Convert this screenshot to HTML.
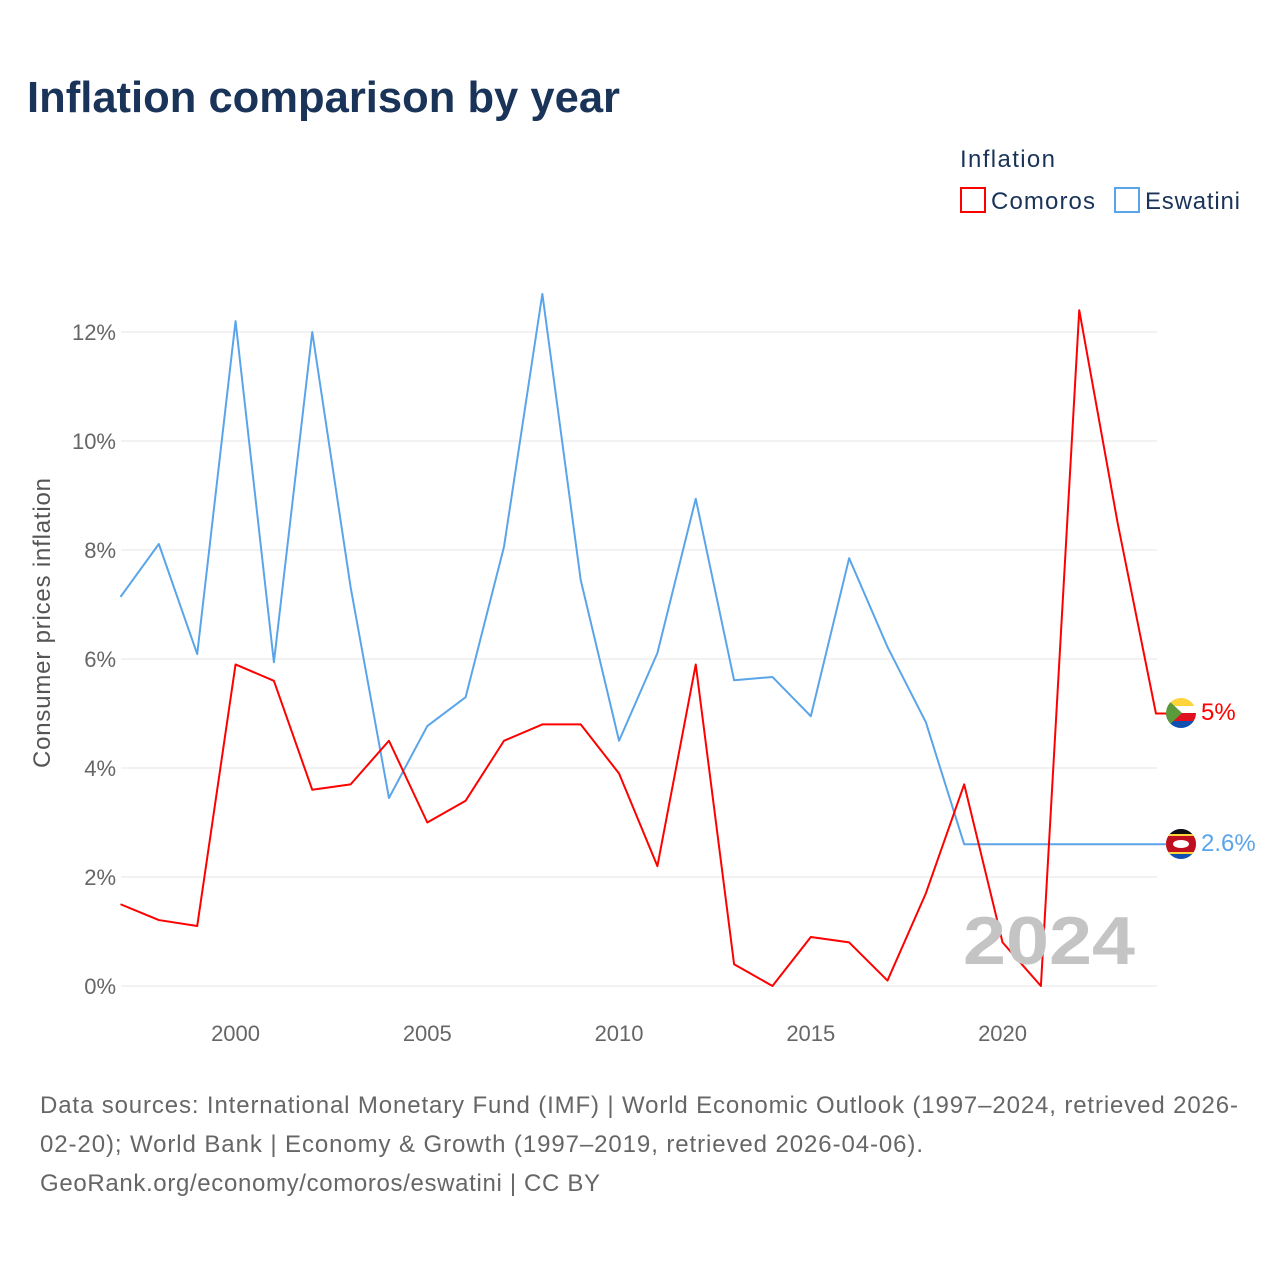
<!DOCTYPE html>
<html><head><meta charset="utf-8"><style>
body{margin:0;background:#fff;font-family:"Liberation Sans",sans-serif;}
</style></head><body>
<svg width="1280" height="1280" xmlns="http://www.w3.org/2000/svg">
<rect width="1280" height="1280" fill="#fff"/>
<text x="27" y="112" font-size="44" font-weight="bold" fill="#1a3358" textLength="593" lengthAdjust="spacingAndGlyphs">Inflation comparison by year</text>
<text x="960" y="167" font-size="24" fill="#1a3358" textLength="95">Inflation</text>
<g><rect x="961" y="188" width="24" height="24" fill="none" stroke="#f00" stroke-width="2"/><text x="991" y="209" font-size="24" fill="#1a3358" textLength="104">Comoros</text></g>
<g><rect x="1115" y="188" width="24" height="24" fill="none" stroke="#5aa5ea" stroke-width="2"/><text x="1145" y="209" font-size="24" fill="#1a3358" textLength="95">Eswatini</text></g>
<g id="grid"></g><g id="xaxis"></g><g id="lines"></g>
<text x="963" y="964" font-size="68" font-weight="bold" fill="#c4c4c4" textLength="172" lengthAdjust="spacingAndGlyphs">2024</text>
<text transform="translate(50,623) rotate(-90)" font-size="24" fill="#555" text-anchor="middle" textLength="290">Consumer prices inflation</text>
<g>
<clipPath id="c1"><circle cx="1181" cy="713" r="15"/></clipPath>
<g clip-path="url(#c1)"><rect x="1166" y="698" width="30" height="8" fill="#ffd43b"/><rect x="1166" y="706" width="30" height="7" fill="#fff"/><rect x="1166" y="713" width="30" height="8" fill="#e01020"/><rect x="1166" y="721" width="30" height="7" fill="#1050b0"/><polygon points="1166,698 1182,713 1166,728" fill="#5a9a3a"/></g></g>
<g>
<clipPath id="c2"><circle cx="1181" cy="844" r="15"/></clipPath>
<g clip-path="url(#c2)"><rect x="1166" y="829" width="30" height="30" fill="#1050b0"/><rect x="1166" y="834" width="30" height="20" fill="#ffd43b"/><rect x="1166" y="836" width="30" height="16" fill="#c01020"/><ellipse cx="1181" cy="844" rx="8" ry="4" fill="#fff"/><rect x="1166" y="829" width="30" height="5" fill="#111"/></g></g>
<text x="1201" y="720" font-size="24" fill="#f00">5%</text>
<text x="1201" y="851" font-size="24" fill="#5aa5ea">2.6%</text>
<g font-size="24" fill="#666">
<text x="40" y="1113" textLength="1198">Data sources: International Monetary Fund (IMF) | World Economic Outlook (1997–2024, retrieved 2026-</text>
<text x="40" y="1152" textLength="883">02-20); World Bank | Economy &amp; Growth (1997–2019, retrieved 2026-04-06).</text>
<text x="40" y="1191" textLength="560">GeoRank.org/economy/comoros/eswatini | CC BY</text></g>
</svg>
<script>
const years=[1997,1998,1999,2000,2001,2002,2003,2004,2005,2006,2007,2008,2009,2010,2011,2012,2013,2014,2015,2016,2017,2018,2019,2020,2021,2022,2023,2024];
const comoros=[1.5,1.21,1.1,5.9,5.6,3.6,3.7,4.5,3.0,3.4,4.5,4.8,4.8,3.9,2.2,5.9,0.4,0,0.9,0.8,0.1,1.7,3.7,0.8,0,12.4,8.5,5.0];
const eswatini=[7.14,8.11,6.09,12.2,5.94,12.0,7.32,3.45,4.77,5.3,8.06,12.7,7.45,4.5,6.11,8.94,5.61,5.67,4.95,7.85,6.22,4.84,2.6];
const yTicks=[0,2,4,6,8,10,12];
const xTicks=[2000,2005,2010,2015,2020];
const NS="http://www.w3.org/2000/svg";
const X=y=>120.5+(y-1997)*38.35, Y=v=>986-v*54.5;
function mk(t,a,p){const e=document.createElementNS(NS,t);for(const k in a)e.setAttribute(k,a[k]);document.getElementById(p).appendChild(e);return e;}
yTicks.forEach(t=>{
 const l=mk('line',{x1:121,x2:1157,y1:Y(t),y2:Y(t),stroke:'#e6e6e6','stroke-width':1},'grid');
 
 
 const tx=mk('text',{x:116,y:Y(t)+8,'font-size':22,fill:'#666','text-anchor':'end'},'grid');tx.textContent=t+'%';
 
 
});
xTicks.forEach(t=>{
 const tx=mk('text',{x:X(t),y:1041,'font-size':22,fill:'#666','text-anchor':'middle'},'xaxis');tx.textContent=t;
 
 
});
function line(vals,col,name){
 let d=vals.map((v,i)=>(i?'L':'M')+X(years[i])+','+Y(v)).join(' ');
 d+=' L1168,'+Y(vals[vals.length-1]);
 const p=mk('path',{d:d,fill:'none',stroke:col,'stroke-width':2,'stroke-linejoin':'round'},'lines');
 
 
}
line(eswatini,'#5aa5ea','eswatini-line');
line(comoros,'#ff0000','comoros-line');
</script>
</body></html>
